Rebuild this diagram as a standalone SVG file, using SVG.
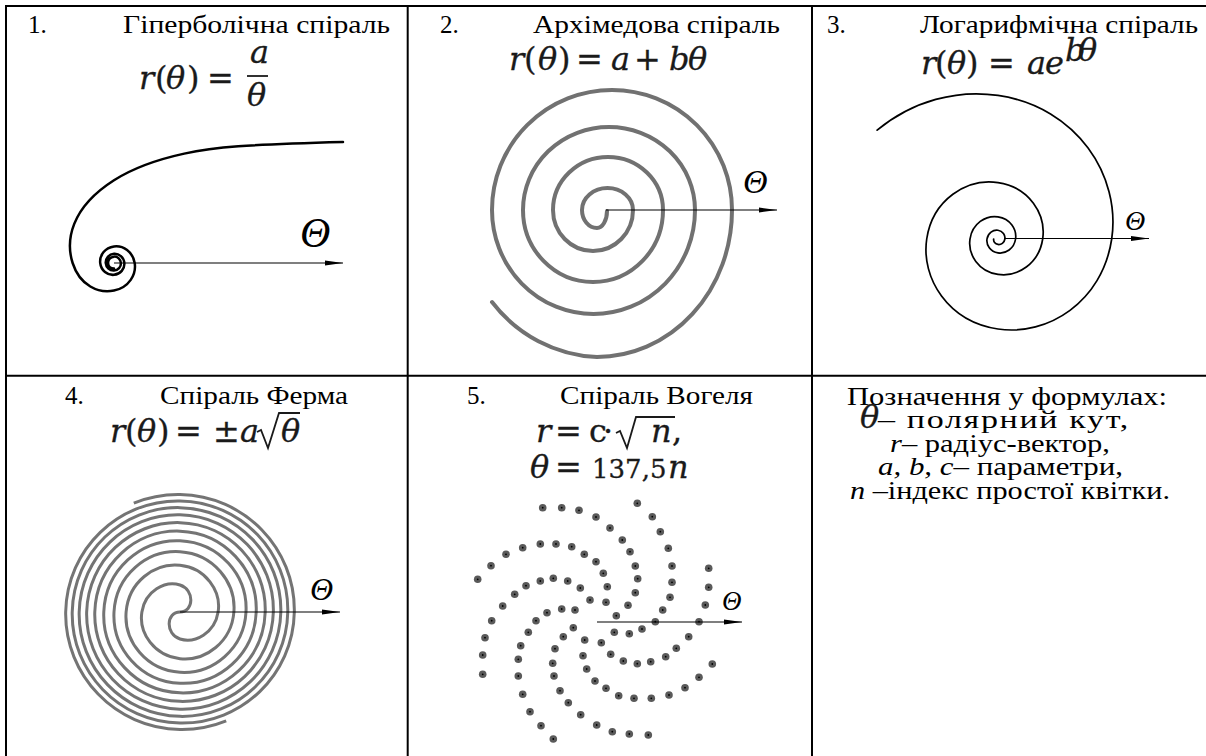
<svg xmlns="http://www.w3.org/2000/svg" width="1206" height="756" viewBox="0 0 1206 756">
<style>
.grid{stroke:#000;stroke-width:2;fill:none}
.t{font-family:"Liberation Serif","Times New Roman",serif;font-size:25px;fill:#000}
.m{font-family:"DejaVu Serif",serif;font-size:32px;fill:#1a1a1a;stroke:#1a1a1a;stroke-width:0.3}
.mi{font-style:italic}
.rad{stroke:#1a1a1a;stroke-width:1.8;fill:none;stroke-linejoin:miter}
.th{font-family:"Liberation Serif","Times New Roman",serif;font-style:italic;fill:#000}
.ax{stroke:#000;stroke-width:1.2;fill:none;marker-end:url(#ah)}
.blk{stroke:#000;fill:none;stroke-linecap:round}
.gry{stroke:#717171;fill:none;stroke-width:4;stroke-linecap:round}
.gry3{stroke:#747474;fill:none;stroke-width:3;stroke-linecap:butt}
</style>
<defs>
<marker id="ah" markerUnits="userSpaceOnUse" markerWidth="19" markerHeight="6" refX="18" refY="3" orient="auto"><path d="M0,0.5 L18,3 L0,5.5 Z" fill="#000"/></marker>
<g id="dot"><circle r="3.8" fill="#5a5a5a"/><circle r="0.9" fill="#000"/></g>
</defs>
<rect width="1206" height="756" fill="#fff"/>
<g id="grid" class="grid">
<line x1="6" y1="5" x2="6" y2="756"/>
<line x1="5" y1="6" x2="1206" y2="6"/>
<line x1="407.7" y1="5" x2="407.7" y2="756"/>
<line x1="812" y1="5" x2="812" y2="756"/>
<line x1="5" y1="375.7" x2="1206" y2="375.7"/>
</g>
<g id="p1">
<text class="t" x="28" y="33">1.</text>
<text class="t" x="123" y="33" textLength="267" lengthAdjust="spacingAndGlyphs">Гіперболічна спіраль</text>
<text class="m" y="89"><tspan class="mi" x="139">r</tspan><tspan x="155">(</tspan><tspan class="mi" x="166">θ</tspan><tspan x="187">)</tspan><tspan x="207">=</tspan></text>
<text class="m mi" x="250" y="63" font-size="28">a</text>
<line x1="247" y1="76" x2="268" y2="76" stroke="#1a1a1a" stroke-width="1.8"/>
<text class="m mi" x="247" y="106">θ</text>
<path class="blk" stroke-width="2.5" d="M343,142 C245.37,144.5 214.18,147.08 184.24,153.61 C150.06,161.06 129.75,170.21 114,180.24 C70.14,208.17 65.64,241.07 72.62,263 C79.86,285.76 98.83,293.81 114,290.59 C129.17,287.37 136.5,274.38 134.69,263 C132.88,251.62 123.1,245.29 114,246.45 C104.9,247.61 99.41,255.42 100.21,263 C101.01,270.58 107.5,275.41 114,274.82 C120.5,274.23 124.8,268.69 124.35,263 C123.9,257.31 119.06,253.44 114,253.8 C108.94,254.16 105.43,258.45 105.72,263 C106.01,267.55 109.86,270.76 114,270.52 C118.14,270.28 121.1,266.79 120.9,263 C120.7,259.21 117.5,256.46 114,256.63 C110.5,256.8 107.94,259.75 108.09,263 C108.24,266.25 110.97,268.52 114,268.52"/>
<line class="ax" x1="114" y1="263" x2="343" y2="263"/>
<text class="th" x="300" y="247" font-size="42">Θ</text>
</g>
<g id="p2">
<text class="t" x="440" y="33">2.</text>
<text class="t" x="533" y="33" textLength="247" lengthAdjust="spacingAndGlyphs">Архімедова спіраль</text>
<text class="m" y="70"><tspan class="mi" x="509">r</tspan><tspan x="524">(</tspan><tspan class="mi" x="538">θ</tspan><tspan x="558">)</tspan><tspan x="576">=</tspan><tspan class="mi" x="611">a</tspan><tspan x="634">+</tspan><tspan class="mi" x="669">b</tspan><tspan class="mi" x="688">θ</tspan></text>
<path class="gry" d="M607,211 A10,17 0 0 1 597,228 A15,18 0 0 1 582,210 A25.5,22 0 0 1 607.5,188 A25.5,22 0 0 1 633,210 A40,41 0 0 1 593,251 A40,41 0 0 1 553,210 A55,53 0 0 1 608,157 A55,53 0 0 1 663,210 A70,72 0 0 1 593,282 A70,72 0 0 1 523,210 A86,83 0 0 1 609,127 A86,83 0 0 1 695,210 A101.5,104 0 0 1 593.5,314 A101.5,104 0 0 1 492,210 A120,120 0 0 1 612,90 A120,120 0 0 1 732,210 A135,147 0 0 1 597,357 A140,140 0 0 1 492,302"/>
<line class="ax" x1="606" y1="210" x2="777" y2="210"/>
<text class="th" x="743" y="193" font-size="34">Θ</text>
</g>
<g id="p3">
<text class="t" x="827" y="33">3.</text>
<text class="t" x="920" y="33" textLength="278" lengthAdjust="spacingAndGlyphs">Логарифмічна спіраль</text>
<text class="m" y="74"><tspan class="mi" x="921">r</tspan><tspan x="935">(</tspan><tspan class="mi" x="947">θ</tspan><tspan x="966">)</tspan><tspan x="988">=</tspan><tspan class="mi" x="1027">a</tspan><tspan class="mi" x="1045">e</tspan></text>
<text class="m mi" y="61" font-size="17" stroke-width="0.2"><tspan x="1065">b</tspan><tspan x="1078">θ</tspan></text>
<path class="blk" stroke-width="1.7" d="M993.67,239 C993.31,241.39 994.98,244.01 998,244.46 C1001.02,244.91 1004.33,242.81 1004.9,239 C1005.47,235.19 1002.82,231 998,230.28 C993.18,229.56 987.89,232.92 986.99,239 C986.09,245.08 990.32,251.76 998,252.9 C1005.68,254.04 1014.12,248.7 1015.56,239 C1017,229.3 1010.25,218.64 998,216.82 C985.75,215 972.29,223.53 969.99,239 C967.69,254.47 978.46,271.47 998,274.38 C1017.54,277.29 1039.01,263.68 1042.68,239 C1046.35,214.32 1029.17,187.2 998,182.57 C966.83,177.94 932.57,199.63 926.72,239 C920.87,278.37 948.28,321.63 998,329.02 C1047.72,336.41 1102.36,301.8 1111.7,239 C1121.04,176.2 1077.31,107.19 998,95.4 C957.3,89.35 913.07,100.5 877.13,130.17"/>
<line class="ax" x1="1004" y1="238.5" x2="1149" y2="238.5"/>
<text class="th" x="1125" y="230" font-size="28">Θ</text>
</g>
<g id="p4">
<text class="t" x="65" y="404">4.</text>
<text class="t" x="160" y="404" textLength="188" lengthAdjust="spacingAndGlyphs">Спіраль Ферма</text>
<text class="m" y="442"><tspan class="mi" x="110">r</tspan><tspan x="125">(</tspan><tspan class="mi" x="137">θ</tspan><tspan x="157">)</tspan><tspan x="175">=</tspan><tspan x="213">±</tspan><tspan class="mi" x="240">a</tspan><tspan class="mi" x="281">θ</tspan></text>
<path class="rad" d="M257,432 L261,430 L268,448 L279,413 L300,413"/>
<path id="arm1" class="gry3" d="M180,612 C166,612 165.12,634.21 180,638.95 C194.88,643.69 214.76,633.05 218.11,612 C221.46,590.95 205.78,568.07 180,565.33 C154.22,562.6 128.48,582.24 126.11,612 C123.74,641.76 146.72,670.13 180,672.25 C213.28,674.37 244.07,648.45 246,612 C247.93,575.55 219.37,542.5 180,540.71 C140.63,538.92 105.47,569.91 103.79,612 C102.12,654.09 135.35,691.26 180,692.84 C224.65,694.42 263.71,659.06 265.21,612 C266.71,564.94 229.36,524.06 180,522.63 C130.64,521.2 88.03,560.45 86.66,612 C85.29,663.55 126.34,707.84 180,709.15 C233.66,710.46 279.55,667.68 280.82,612 C282.09,556.32 237.64,508.86 180,507.64 C122.36,506.42 73.4,552.47 72.22,612 C71.04,671.53 118.64,721.95 180,723.1 C241.36,724.25 293.2,675.14 294.32,612 C295.44,548.86 244.87,495.64 180,494.55 C164.23,494.29 148.51,497.2 133.8,503.16"/>
<use href="#arm1" transform="rotate(180 180 612)"/>
<line class="ax" x1="180" y1="612" x2="340" y2="612"/>
<text class="th" x="310" y="600" font-size="32">Θ</text>
</g>
<g id="p5">
<text class="t" x="467" y="404">5.</text>
<text class="t" x="560" y="404" textLength="193" lengthAdjust="spacingAndGlyphs">Спіраль Вогеля</text>
<text class="m" y="442"><tspan class="mi" x="536">r</tspan><tspan x="555">=</tspan><tspan x="589">c</tspan><tspan x="603">·</tspan><tspan class="mi" x="651">n</tspan><tspan x="672">,</tspan></text>
<path class="rad" d="M616,433 L620,431 L627,448 L636,417 L675,417"/>
<text class="m" y="478"><tspan class="mi" x="530">θ</tspan><tspan x="555">=</tspan><tspan x="592" font-size="26">137,5</tspan><tspan class="mi" x="668">n</tspan></text>
<g id="dots">
<use href="#dot" x="542.7" y="507.7"/><use href="#dot" x="561.7" y="507.7"/><use href="#dot" x="579" y="510.3"/><use href="#dot" x="637.3" y="503.3"/>
<use href="#dot" x="596" y="517"/><use href="#dot" x="652.3" y="516.7"/><use href="#dot" x="610" y="528"/><use href="#dot" x="660.3" y="531.7"/>
<use href="#dot" x="622.3" y="540"/><use href="#dot" x="540.3" y="544"/><use href="#dot" x="522.7" y="547.7"/><use href="#dot" x="556" y="544"/>
<use href="#dot" x="571.7" y="546.7"/><use href="#dot" x="668.3" y="548.3"/><use href="#dot" x="630" y="551.7"/><use href="#dot" x="506" y="554.3"/>
<use href="#dot" x="584.3" y="554.3"/><use href="#dot" x="596" y="561.7"/><use href="#dot" x="491" y="565.7"/><use href="#dot" x="635.3" y="566"/>
<use href="#dot" x="672" y="566"/><use href="#dot" x="708.7" y="568.3"/><use href="#dot" x="603.3" y="573.3"/><use href="#dot" x="477.7" y="579.3"/>
<use href="#dot" x="540.3" y="581"/><use href="#dot" x="553.3" y="578.3"/><use href="#dot" x="526" y="585.7"/><use href="#dot" x="567.7" y="581"/>
<use href="#dot" x="637.7" y="578.7"/><use href="#dot" x="672" y="582.3"/><use href="#dot" x="580.3" y="588"/><use href="#dot" x="607.3" y="586.7"/>
<use href="#dot" x="708.7" y="587.3"/><use href="#dot" x="514.7" y="594.3"/><use href="#dot" x="635.3" y="592.7"/><use href="#dot" x="670" y="597.3"/>
<use href="#dot" x="590" y="600"/><use href="#dot" x="606" y="602.3"/><use href="#dot" x="502.7" y="606"/><use href="#dot" x="628" y="605.3"/>
<use href="#dot" x="705.3" y="605"/><use href="#dot" x="547" y="612.7"/><use href="#dot" x="561.7" y="609"/><use href="#dot" x="575" y="610"/>
<use href="#dot" x="662.7" y="610"/><use href="#dot" x="616.3" y="615.7"/><use href="#dot" x="491.7" y="620.7"/><use href="#dot" x="536" y="620.7"/>
<use href="#dot" x="655.3" y="621.7"/><use href="#dot" x="699" y="621.7"/><use href="#dot" x="573.3" y="627.7"/><use href="#dot" x="642" y="629"/>
<use href="#dot" x="528.3" y="632.3"/><use href="#dot" x="629.3" y="633.7"/><use href="#dot" x="614.3" y="632.3"/><use href="#dot" x="485" y="637.7"/>
<use href="#dot" x="563.3" y="636.7"/><use href="#dot" x="688.7" y="636.7"/><use href="#dot" x="601.3" y="642.7"/><use href="#dot" x="584.7" y="640"/>
<use href="#dot" x="520.7" y="645.7"/><use href="#dot" x="555" y="648.7"/><use href="#dot" x="676.3" y="648.3"/><use href="#dot" x="482.7" y="655"/>
<use href="#dot" x="583" y="655.7"/><use href="#dot" x="610.7" y="654.3"/><use href="#dot" x="665.7" y="656.7"/><use href="#dot" x="518.3" y="659.3"/>
<use href="#dot" x="552.7" y="663.3"/><use href="#dot" x="623.3" y="661"/><use href="#dot" x="637.3" y="663.7"/><use href="#dot" x="650.7" y="661.7"/>
<use href="#dot" x="712.3" y="664"/><use href="#dot" x="586.7" y="669"/><use href="#dot" x="482.7" y="674.3"/><use href="#dot" x="518.3" y="676"/>
<use href="#dot" x="554" y="676"/><use href="#dot" x="699" y="677.3"/><use href="#dot" x="595" y="681"/><use href="#dot" x="606" y="688.3"/>
<use href="#dot" x="685" y="687.7"/><use href="#dot" x="560" y="690.7"/><use href="#dot" x="522.7" y="694.3"/><use href="#dot" x="618.7" y="695.7"/>
<use href="#dot" x="634" y="698.3"/><use href="#dot" x="651.3" y="698.3"/><use href="#dot" x="669" y="695"/><use href="#dot" x="568.3" y="702.7"/>
<use href="#dot" x="530" y="711.7"/><use href="#dot" x="580.7" y="714.7"/><use href="#dot" x="541" y="725.7"/><use href="#dot" x="596.7" y="725"/>
<use href="#dot" x="612.3" y="731.7"/><use href="#dot" x="629.3" y="734"/><use href="#dot" x="648.3" y="735"/><use href="#dot" x="553.3" y="739"/>
</g>
<line class="ax" x1="597" y1="622" x2="742" y2="622"/>
<text class="th" x="722" y="610" font-size="27">Θ</text>
</g>
<g id="p6">
<text class="t" x="847" y="405" textLength="320" lengthAdjust="spacingAndGlyphs">Позначення у формулах:</text>
<text class="m mi" x="860" y="428" font-size="23" stroke-width="0.6">θ</text>
<text class="t" transform="translate(878,428) scale(1.36,1)" x="0" y="0" textLength="184" lengthAdjust="spacing">– полярний кут,</text>
<text class="t" x="890" y="452" textLength="220" lengthAdjust="spacingAndGlyphs"><tspan font-style="italic">r</tspan>– радіус-вектор,</text>
<text class="t" x="878" y="475" textLength="245" lengthAdjust="spacingAndGlyphs"><tspan font-style="italic">a, b, c</tspan>– параметри,</text>
<text class="t" x="850" y="499" textLength="320" lengthAdjust="spacingAndGlyphs"><tspan font-style="italic">n</tspan> –індекс простої квітки.</text>
</g>
</svg>
